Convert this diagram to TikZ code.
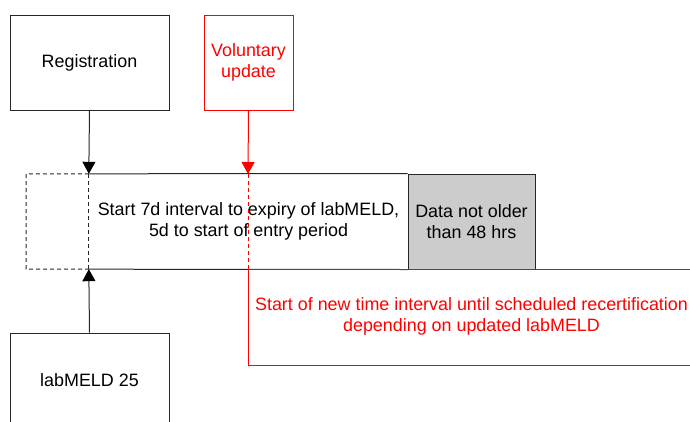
\documentclass[tikz,border=0pt]{standalone}
\usepackage{fontspec}
\setmainfont{Liberation Sans}
\usetikzlibrary{arrows.meta}
\begin{document}
\begin{tikzpicture}[x=1pt,y=-1pt,
  every node/.style={font=\fontsize{17.9}{21}\selectfont, align=center, inner sep=0pt},
  boxline/.style={draw=black!85, line width=1pt},
  redline/.style={draw=red, line width=1pt},
  blk/.style={rectangle, boxline, minimum width=159pt, minimum height=95pt},
  redbox/.style={rectangle, redline, text=red, minimum width=89pt, minimum height=95pt},
  dashline/.style={dash pattern=on 4pt off 3pt},
  blackhead/.style={-{Triangle[width=13pt,length=12pt,black]}},
  redhead/.style={-{Triangle[width=13pt,length=12pt,red]}}
]
\useasboundingbox (0,0) rectangle (690,421);
\clip (0,0) rectangle (690,421);
% upper boxes
\node[blk] (reg) at (89.5,62.5) {Registration};
\node[redbox] (vol) at (248.5,62.5) {Voluntary\\update};
% main interval
\node[minimum width=319pt, minimum height=95pt] (main) at (248.5,221.5) {Start 7d interval to expiry of labMELD,\\5d to start of entry period};
\node[rectangle, boxline, fill=black!20, minimum width=127pt, minimum height=95pt] (gray) at (471.5,221.5) {Data not older\\than 48 hrs};
\draw[boxline] (main.north west) -- (gray.north west);
\draw[boxline] (main.south west) -- (gray.south west);
% dashed left box
\coordinate (dl1) at (26,174);
\coordinate (dl2) at (26,269);
\draw[boxline, dashline] (main.north west) -- (dl1) -- (dl2) -- (main.south west);
\draw[boxline, dashline] (main.north west) -- (main.south west);
% red interval
\coordinate (vtop) at (248,174);
\coordinate (vbot) at (248,269);
\coordinate (rr1) at (692,269);
\coordinate (rr2) at (692,365);
\coordinate (rb) at (248,365);
\draw[redline, dashline] (vtop) -- (vbot);
\draw[redline] (rr1) -- (vbot) -- (rb) -- (rr2);
\node[text=red] (newint) at (471.5,316.5) {Start of new time interval until scheduled recertification\\depending on updated labMELD};
% bottom box
\node[blk] (lab) at (89.5,380.5) {labMELD 25};
% arrows
\draw[boxline, blackhead] (reg.south) -- (main.north west);
\draw[redline, redhead] (vol.south) -- (vtop);
\draw[boxline, blackhead] (lab.north) -- (main.south west);
\end{tikzpicture}
\end{document}
